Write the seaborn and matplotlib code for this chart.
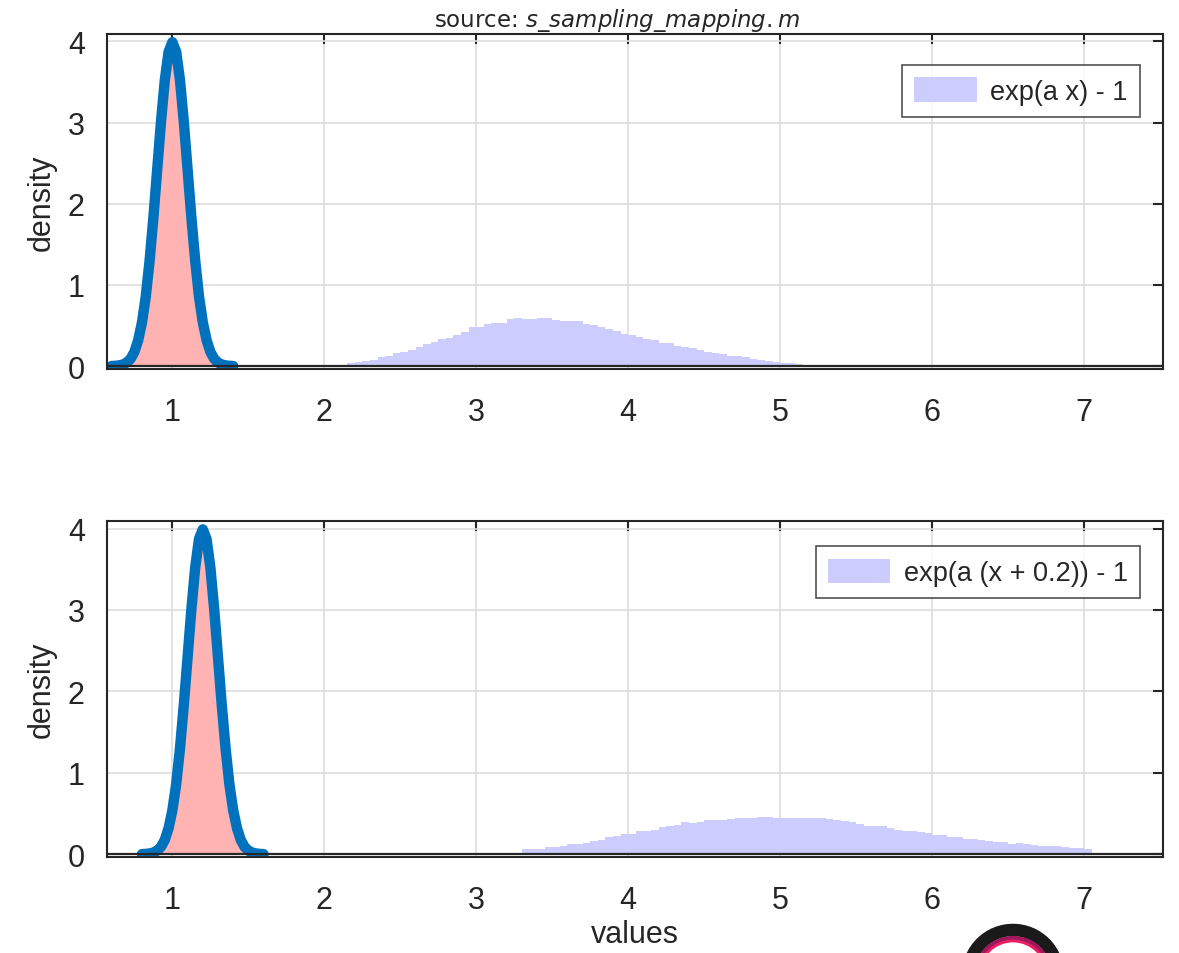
import numpy as np
import pandas as pd
import matplotlib
matplotlib.use("Agg")
from matplotlib import pyplot as plt
from matplotlib.patches import Patch, Circle
import seaborn as sns

# gaussian density (blue line) and its sample histogram (red)
pdf_offsets = [-0.4, -0.375, -0.35, -0.325, -0.3, -0.275, -0.25, -0.225, -0.2, -0.175,
               -0.15, -0.125, -0.1, -0.075, -0.05, -0.025, 0.0, 0.025, 0.05, 0.075,
               0.1, 0.125, 0.15, 0.175, 0.2, 0.225, 0.25, 0.275, 0.3, 0.325,
               0.35, 0.375, 0.4]
pdf_values = [0.001, 0.0035, 0.009, 0.02, 0.044, 0.09, 0.175, 0.32, 0.54, 0.86,
              1.30, 1.83, 2.42, 3.01, 3.52, 3.87, 3.99, 3.87, 3.52, 3.01,
              2.42, 1.83, 1.30, 0.86, 0.54, 0.32, 0.175, 0.09, 0.044, 0.02,
              0.009, 0.0035, 0.001]
red_heights = [0.0, 0.0, 0.005, 0.015, 0.04, 0.08, 0.16, 0.30, 0.52, 0.84,
               1.27, 1.80, 2.40, 2.98, 3.50, 3.85, 3.98, 3.86, 3.50, 2.99,
               2.41, 1.81, 1.28, 0.85, 0.53, 0.31, 0.17, 0.08, 0.04, 0.015,
               0.005, 0.0, 0.0]
centres = [1.0, 1.2]

# mapped samples: exp(a x) - 1, bins of 0.05 starting at 2.15
top_start = 2.15
top_heights = [0.04, 0.053, 0.06, 0.08, 0.11, 0.13, 0.16, 0.18, 0.20, 0.23,
               0.27, 0.30, 0.34, 0.35, 0.38, 0.42, 0.48, 0.48, 0.515, 0.525,
               0.53, 0.575, 0.59, 0.585, 0.58, 0.59, 0.595, 0.57, 0.56, 0.555,
               0.56, 0.52, 0.51, 0.48, 0.46, 0.43, 0.40, 0.38, 0.355, 0.34,
               0.32, 0.29, 0.28, 0.25, 0.24, 0.22, 0.20, 0.18, 0.165, 0.15,
               0.13, 0.12, 0.11, 0.09, 0.08, 0.065, 0.055, 0.04, 0.035, 0.03]

# exp(a (x + 0.2)) - 1, bins of 0.05 starting at 3.30
bot_start = 3.30
bot_heights = [0.06, 0.06, 0.06, 0.09, 0.09, 0.10, 0.13, 0.13, 0.135, 0.16,
               0.175, 0.21, 0.22, 0.245, 0.245, 0.285, 0.285, 0.30, 0.335, 0.345,
               0.355, 0.39, 0.38, 0.39, 0.415, 0.42, 0.415, 0.43, 0.45, 0.44,
               0.445, 0.455, 0.455, 0.445, 0.445, 0.445, 0.45, 0.45, 0.45, 0.445,
               0.43, 0.42, 0.41, 0.39, 0.37, 0.35, 0.35, 0.345, 0.32, 0.30,
               0.28, 0.28, 0.27, 0.26, 0.235, 0.235, 0.21, 0.205, 0.19, 0.185,
               0.175, 0.165, 0.15, 0.145, 0.125, 0.135, 0.12, 0.115, 0.095, 0.095,
               0.095, 0.085, 0.075, 0.07, 0.06]

legend_labels = ["exp(a x) - 1", "exp(a (x + 0.2)) - 1"]
x_ticks = [1, 2, 3, 4, 5, 6, 7]
y_ticks = [0, 1, 2, 3, 4]

RED = "#ffb3b3"
PURPLE = "#ccccff"
BLUE = "#0072bd"
DARK = "#262626"

sns.set_style("white")
plt.rcParams["font.family"] = ["Liberation Sans", "DejaVu Sans"]

fig = plt.figure(figsize=(11.79, 9.54), dpi=100)
ax_top = fig.add_axes([0.0908, 0.6122, 0.8957, 0.3511])
ax_bot = fig.add_axes([0.0908, 0.1006, 0.8957, 0.3520])


def draw_panel(ax, centre, start, heights, label, leg_top):
    width = 0.05
    edges = start + width * np.arange(len(heights) + 1)
    hist_df = pd.DataFrame({"v": edges[:-1] + width / 2, "w": heights})
    sns.histplot(data=hist_df, x="v", weights="w", bins=list(edges),
                 stat="count", color=PURPLE, alpha=1, linewidth=0, ax=ax)

    offs = np.array(pdf_offsets)
    red_edges = np.append(offs - 0.0125, offs[-1] + 0.0125) + centre
    red_df = pd.DataFrame({"v": offs + centre, "w": red_heights})
    sns.histplot(data=red_df, x="v", weights="w", bins=list(red_edges),
                 stat="count", color=RED, alpha=1, linewidth=0, ax=ax)

    line_df = pd.DataFrame({"x": offs + centre, "y": pdf_values})
    sns.lineplot(data=line_df, x="x", y="y", color=BLUE, linewidth=7.5,
                 ax=ax, solid_capstyle="round")

    ax.axhline(0, color=DARK, linewidth=1.6, zorder=5)
    ax.set_xlim(0.57, 7.52)
    ax.set_ylim(-0.035, 4.09)
    ax.set_xticks(x_ticks)
    ax.set_yticks(y_ticks)
    ax.grid(True, color="#dddddd", linewidth=1.2)
    ax.set_axisbelow(True)
    ax.tick_params(direction="in", length=7, width=1.5, colors=DARK,
                   labelsize=22, top=True, right=True)
    ax.tick_params(axis="x", pad=20)
    ax.tick_params(axis="y", pad=16)
    for sp in ax.spines.values():
        sp.set_color(DARK)
        sp.set_linewidth(1.5)
    ax.set_ylabel("density", fontsize=22, color=DARK, labelpad=8)
    ax.set_xlabel("")
    handle = Patch(facecolor=PURPLE, edgecolor="none")
    leg = ax.legend([handle], [label], loc="upper right", fontsize=19.5,
                    frameon=True, fancybox=False, borderaxespad=0,
                    handlelength=2.3, handleheight=1.0, handletextpad=0.5,
                    borderpad=0.45, bbox_to_anchor=(0.978, leg_top))
    leg.get_frame().set_edgecolor(DARK)
    leg.get_frame().set_linewidth(1.2)


draw_panel(ax_top, centres[0], top_start, top_heights, legend_labels[0], 0.907)
draw_panel(ax_bot, centres[1], bot_start, bot_heights, legend_labels[1], 0.925)
ax_bot.set_xlabel("values", fontsize=22, color=DARK, labelpad=3)

fig.text(617 / 1179, 1 - 20 / 954, r"source: $s\_sampling\_mapping.m$",
         ha="center", va="center", fontsize=16.5, family="DejaVu Sans")

# partial logo at the bottom edge
logo_ax = fig.add_axes([0, 0, 1, 1], zorder=-1)
logo_ax.set_xlim(0, 1179)
logo_ax.set_ylim(954, 0)
logo_ax.axis("off")
logo_ax.add_patch(Circle((1013, 976), 45, facecolor="none",
                         edgecolor="#1a1a1a", linewidth=9))
logo_ax.add_patch(Circle((1013, 976), 37, facecolor="none",
                         edgecolor="#a0185b", linewidth=3))
logo_ax.add_patch(Circle((1013, 976), 34, facecolor="none",
                         edgecolor="#e91e63", linewidth=2))

fig.savefig("out.png", dpi=100)
